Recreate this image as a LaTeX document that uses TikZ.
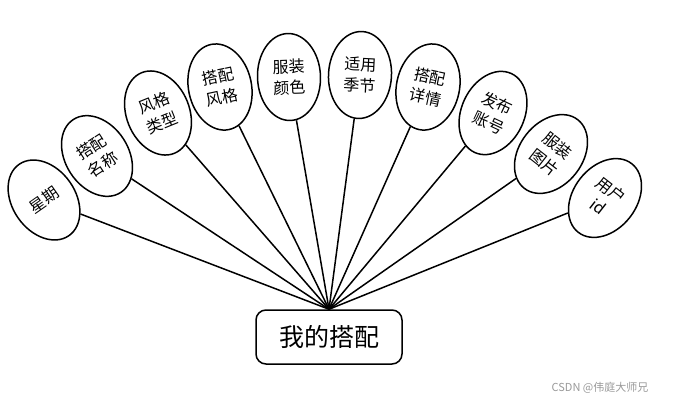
\documentclass[tikz,border=0pt]{standalone}
\usepackage{fontspec}
\setmainfont{Noto Sans CJK SC}
\usetikzlibrary{shapes.geometric}
\begin{document}
\begin{tikzpicture}[x=1pt,y=-1pt,
  attr/.style={ellipse,draw,line width=1.5pt,inner sep=0pt,minimum width=63pt,minimum height=87pt,align=center,font=\fontsize{16}{21}\selectfont},
  ent/.style={draw,line width=1.5pt,rounded corners=10pt,minimum width=146pt,minimum height=54pt,font=\fontsize{25}{30}\selectfont},
  link/.style={line width=1.5pt}]
\useasboundingbox (0,0) rectangle (675,402);
\node[ent] (m) at (329,337) {我的搭配};
\node[attr,rotate=35] (a1) at (44,200) {星期};
\node[attr,rotate=33] (a2) at (97,156) {搭配\\名称};
\node[attr,rotate=22] (a3) at (158,113) {风格\\类型};
\node[attr,rotate=12] (a4) at (220,87) {搭配\\风格};
\node[attr,rotate=2] (a5) at (289,77) {服装\\颜色};
\node[attr,rotate=-3] (a6) at (360,75) {适用\\季节};
\node[attr,rotate=-12] (a7) at (428,87) {搭配\\详情};
\node[attr,rotate=-25] (a8) at (493,113) {发布\\账号};
\node[attr,rotate=-38] (a9) at (551,154) {服装\\图片};
\node[attr,rotate=-38] (a10) at (605,198) {用户\\id};
\foreach \i in {1,...,10} \draw[link] (m.north) -- (a\i);
\node[text=black!40,font=\fontsize{11}{13}\selectfont] (wm) at (600,388) {CSDN @伟庭大师兄};
\end{tikzpicture}
\end{document}
